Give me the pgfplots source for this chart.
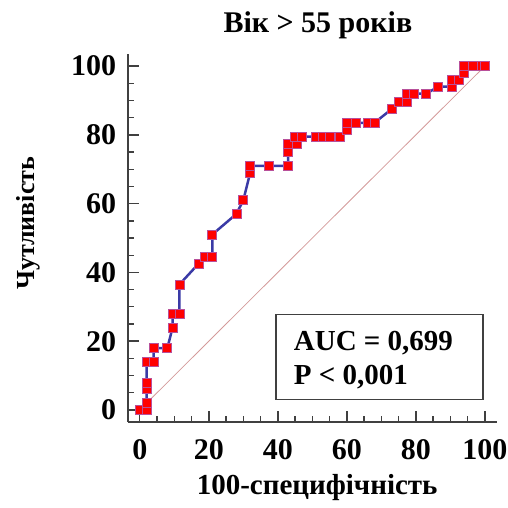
\documentclass[border=0pt]{standalone}
\usepackage{fontspec}
\setmainfont{Liberation Serif}
\usepackage{pgfplots}
\pgfplotsset{compat=1.18}

\definecolor{rocblue}{HTML}{3A3AA6}
\definecolor{rocred}{HTML}{FF0000}
\definecolor{rocedge}{HTML}{B8509A}
\definecolor{diag}{HTML}{D49A9A}
\definecolor{axgray}{HTML}{404040}

\begin{document}
\begin{tikzpicture}
  \useasboundingbox (-127.7pt,-85pt) rectangle (380.3pt,422pt);
  \begin{axis}[
    scale only axis,
    width=369.3pt, height=368pt,
    xmin=-3.5, xmax=103.5,
    ymin=-3.5, ymax=103.5,
    axis x line=bottom, axis y line=left,
    axis line style={-, line width=2.2pt, axgray},
    xtick={0,20,...,100}, ytick={0,20,...,100},
    minor tick num=3,
    tick align=inside,
    major tick length=11pt, minor tick length=6pt,
    every tick/.style={axgray, line width=1.4pt},
    /pgf/number format/assume math mode=true,
    tick label style={font=\fontsize{30}{30}\selectfont\bfseries},
    yticklabel style={xshift=-8pt},
    xticklabel style={yshift=-14pt},
    clip=false,
    title={Вік > 55 років},
    title style={font=\fontsize{30}{30}\selectfont\bfseries, at={(0.515,1.042)}, anchor=base},
    xlabel={100-специфічність},
    xlabel style={font=\fontsize{29}{29}\selectfont\bfseries, at={(0.513,-0.196)}, anchor=base},
    ylabel={Чутливість},
    ylabel style={font=\fontsize{26}{26}\selectfont\bfseries, at={(-0.27,0.54)}, anchor=center, rotate=0},
  ]
    \addplot[diag, line width=0.8pt] coordinates {(0,0) (100,100)};
    \addplot[rocblue, line width=2.5pt, mark=square*,
      mark options={fill=rocred, draw=rocedge, line width=0.8pt}, mark size=4.5pt]
      coordinates {
      (0,0) (2,0) (2,2) (2,6) (2,8) (2,14) (4,14) (4,18) (8,18)
      (9.5,24) (9.5,28) (11.5,28) (11.5,36.5) (17,42.5) (19,44.5) (21,44.5)
      (21,51) (28,57) (30,61) (32,69) (32,71) (37.5,71) (43,71) (43,75)
      (43,77.5) (45.5,77.5) (45,79.5) (47,79.5) (51,79.5) (53,79.5) (55,79.5)
      (58,79.5) (60,81.5) (60,83.5) (62.5,83.5) (66,83.5) (68,83.5) (73,87.5)
      (75,89.5) (77.5,89.5) (77.5,92) (79.5,92) (83,92) (86.5,94) (90.5,94)
      (90.5,96) (92.5,96) (94,98) (94,100) (96.5,100) (99,100) (100,100)
    };
    \draw[axgray, line width=1.6pt, fill=white] (axis cs:39.5,27.8) rectangle (axis cs:99.4,3.1);
    \node[anchor=base west, inner sep=0pt, font=\fontsize{29}{29}\selectfont\bfseries]
      at (axis cs:44.6,17.2) {AUC = 0,699};
    \node[anchor=base west, inner sep=0pt, font=\fontsize{29}{29}\selectfont\bfseries]
      at (axis cs:44.6,7.5) {P < 0,001};
  \end{axis}
\end{tikzpicture}
\end{document}
